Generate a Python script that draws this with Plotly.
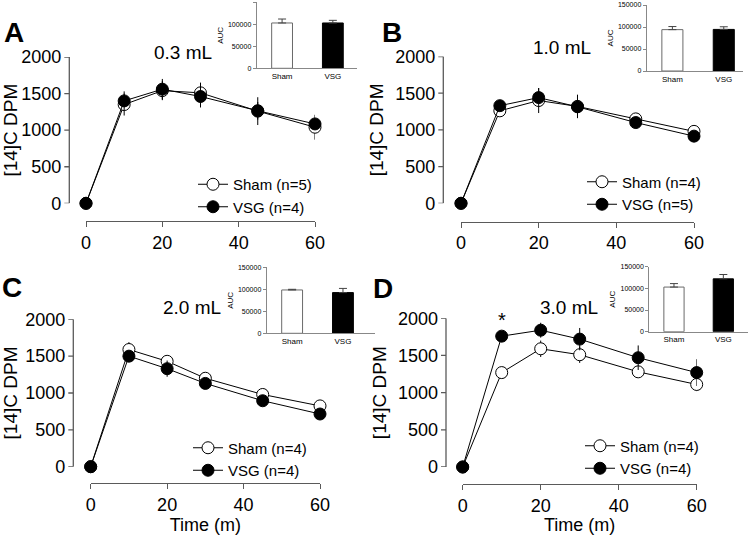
import plotly.graph_objects as go

# ---------------- data ----------------
time_min = [0, 10, 20, 30, 45, 60]

sham_A = [0, 1350, 1540, 1510, 1260, 1040]
sham_A_err = [0, 150, 130, 140, 190, 170]
vsg_A = [0, 1400, 1560, 1460, 1265, 1085]
vsg_A_err = [0, 130, 140, 150, 120, 60]

sham_B = [0, 1260, 1400, 1320, 1150, 980]
sham_B_err = [0, 60, 170, 160, 60, 40]
vsg_B = [0, 1330, 1440, 1315, 1100, 915]
vsg_B_err = [0, 50, 130, 90, 80, 40]

sham_C = [0, 1590, 1430, 1200, 980, 825]
sham_C_err = [0, 100, 70, 40, 40, 30]
vsg_C = [0, 1500, 1330, 1130, 895, 715]
vsg_C_err = [0, 80, 110, 40, 40, 40]

sham_D = [0, 1270, 1590, 1510, 1280, 1110]
sham_D_err = [0, 40, 110, 110, 60, 90]
vsg_D = [0, 1760, 1840, 1720, 1470, 1270]
vsg_D_err = [0, 40, 100, 150, 165, 180]

auc_groups = ["Sham", "VSG"]
auc_A = [103000, 103000]
auc_A_err = [9000, 6000]
auc_B = [94000, 94500]
auc_B_err = [7000, 6000]
auc_C = [98500, 92500]
auc_C_err = [1500, 9500]
auc_D = [103000, 122000]
auc_D_err = [8000, 10000]

panel_letters = ["A", "B", "C", "D"]
volumes = ["0.3 mL", "1.0 mL", "2.0 mL", "3.0 mL"]
sham_names = ["Sham (n=5)", "Sham (n=4)", "Sham (n=4)", "Sham (n=4)"]
vsg_names = ["VSG (n=4)", "VSG (n=5)", "VSG (n=4)", "VSG (n=4)"]
y_ticks = [0, 500, 1000, 1500, 2000]
x_ticks = [0, 20, 40, 60]
auc_ticks = [0, 50000, 100000, 150000]

# ---------------- layout helpers ----------------
W, H = 750, 535
FONT = "Liberation Sans, Arial, sans-serif"
AXC = "#5a5a5a"
T_MAX = 60
Y_MAX = 2000


def px_x(v):
    return v / W


def px_y(v):
    return 1 - v / H


main_geo = [
    dict(x0=86, x1=315, yt=57, yb=203.3, yline=69.3, xline=221),
    dict(x0=461, x1=694, yt=56.5, yb=203.3, yline=443.3, xline=221.7),
    dict(x0=90.7, x1=320, yt=319.3, yb=466.7, yline=73.3, xline=483.3),
    dict(x0=462.7, x1=696.7, yt=318.3, yb=467, yline=446, xline=484.3),
]
inset_geo = [
    dict(x0=256.7, x1=356.7, yt=2.3, yb=68.3, xr=1.47),
    dict(x0=646.7, x1=743.3, yt=5, yb=71, xr=1.38),
    dict(x0=266.7, x1=375, yt=267.3, yb=333.3, xr=1.63),
    dict(x0=649.3, x1=748, yt=266.7, yb=331.7, xr=1.5),
]
title_pos = [(183, 52), (562, 48), (192, 307), (569, 307)]
letter_pos = [(14, 32), (392, 32), (12, 287), (383, 288)]
legend_pos = [(193, 195.5), (582, 193), (188, 459), (580, 457)]

shams = [sham_A, sham_B, sham_C, sham_D]
sham_errs = [sham_A_err, sham_B_err, sham_C_err, sham_D_err]
vsgs = [vsg_A, vsg_B, vsg_C, vsg_D]
vsg_errs = [vsg_A_err, vsg_B_err, vsg_C_err, vsg_D_err]
aucs = [auc_A, auc_B, auc_C, auc_D]
auc_errs = [auc_A_err, auc_B_err, auc_C_err, auc_D_err]

fig = go.Figure()
layout = dict(
    width=W, height=H, margin=dict(l=0, r=0, t=0, b=0, autoexpand=False),
    paper_bgcolor="white", plot_bgcolor="rgba(0,0,0,0)",
    font=dict(family=FONT, color="black"),
    annotations=[], shapes=[],
)

HIDDEN = dict(showticklabels=False, ticks="", showgrid=False,
              zeroline=False, title=dict(text=""))

for i in range(4):
    n = i + 1
    xa = "x" if n == 1 else f"x{n}"       # data x axis (extends left to the y-axis line)
    ya = "y" if n == 1 else f"y{n}"       # data y axis
    tx_ax = f"x{8 + n}"                    # visible time axis, offset below the data
    hy = f"y{8 + n}"                       # helper whose bottom edge carries the time axis
    lg = "legend" if n == 1 else f"legend{n}"
    g = main_geo[i]

    x_min = -T_MAX * (g["x0"] - g["yline"]) / (g["x1"] - g["x0"])

    fig.add_trace(go.Scatter(x=[], y=[], xaxis=tx_ax, yaxis=hy, showlegend=False, hoverinfo="skip"))

    fig.add_trace(go.Scatter(
        x=time_min, y=shams[i], name=sham_names[i], xaxis=xa, yaxis=ya, legend=lg,
        mode="lines+markers", cliponaxis=False,
        line=dict(color="black", width=1),
        marker=dict(symbol="circle", size=12, color="white", line=dict(color="black", width=1)),
        error_y=dict(type="data", array=sham_errs[i], color="black", thickness=1, width=0),
    ))
    fig.add_trace(go.Scatter(
        x=time_min, y=vsgs[i], name=vsg_names[i], xaxis=xa, yaxis=ya, legend=lg,
        mode="lines+markers", cliponaxis=False,
        line=dict(color="black", width=1),
        marker=dict(symbol="circle", size=12, color="black", line=dict(color="black", width=1)),
        error_y=dict(type="data", array=vsg_errs[i], color="black", thickness=1, width=0),
    ))

    xkey = "xaxis" if n == 1 else f"xaxis{n}"
    ykey = "yaxis" if n == 1 else f"yaxis{n}"
    layout[xkey] = dict(
        domain=[px_x(g["yline"]), px_x(g["x1"])], range=[x_min, T_MAX], anchor=ya,
        showline=False, **HIDDEN)
    layout[ykey] = dict(
        domain=[px_y(g["yb"]), px_y(g["yt"])], range=[0, Y_MAX],
        anchor=xa, showline=False, ticks="", ticklabelstandoff=7,
        tickvals=y_ticks, tickfont=dict(size=18, family=FONT, color="black"),
        showgrid=False, zeroline=False,
        title=dict(text="[14]C DPM", font=dict(size=19, family=FONT), standoff=6),
    )
    # y-axis line and tick marks, placed on the data y scale at the left edge of the data x domain
    layout["shapes"].append(dict(
        type="line", xref=f"{xa} domain", yref=ya, x0=0, x1=0, y0=0, y1=Y_MAX,
        line=dict(color=AXC, width=1.3), layer="above"))
    for v in y_ticks:
        layout["shapes"].append(dict(
            type="line", xref=f"{xa} domain", yref=ya, xsizemode="pixel", xanchor=0,
            x0=-5, x1=0, y0=v, y1=v, line=dict(color=AXC, width=1.3), layer="above"))

    layout[f"xaxis{8 + n}"] = dict(
        domain=[px_x(g["x0"]), px_x(g["x1"])], range=[0, T_MAX],
        anchor=hy,
        showline=True, linecolor=AXC, linewidth=1.3,
        ticks="outside", ticklen=5, tickcolor=AXC, tickwidth=1.3,
        tickvals=x_ticks, tickfont=dict(size=18, family=FONT, color="black"),
        showgrid=False, zeroline=False,
        title=dict(text="Time (m)" if i >= 2 else "", font=dict(size=18, family=FONT), standoff=0),
    )
    layout[f"yaxis{8 + n}"] = dict(
        domain=[px_y(g["xline"]), px_y(g["yt"])], range=[0, 1], anchor=tx_ax,
        showline=False, **HIDDEN)

    lx, ly = legend_pos[i]
    layout[lg] = dict(
        x=px_x(lx), y=px_y(ly), xanchor="left", yanchor="middle",
        bgcolor="rgba(0,0,0,0)", font=dict(size=15, family=FONT, color="black"),
        itemwidth=30, tracegroupgap=0,
    )

    tpx, tpy = title_pos[i]
    layout["annotations"].append(dict(
        text=volumes[i], x=px_x(tpx), y=px_y(tpy), xref="paper", yref="paper",
        showarrow=False, font=dict(size=19, family=FONT), xanchor="center", yanchor="middle"))
    lx2, ly2 = letter_pos[i]
    layout["annotations"].append(dict(
        text=f"<b>{panel_letters[i]}</b>", x=px_x(lx2), y=px_y(ly2), xref="paper", yref="paper",
        showarrow=False, font=dict(size=28, family=FONT), xanchor="center", yanchor="middle"))

    m = n + 4
    ixa = f"x{m}"
    iya = f"y{m}"
    ig = inset_geo[i]
    fig.add_trace(go.Bar(
        x=auc_groups, y=aucs[i], xaxis=ixa, yaxis=iya, showlegend=False, width=0.41,
        marker=dict(color=["white", "black"], line=dict(color=["#6a6a6a", "black"], width=1)),
        error_y=dict(type="data", symmetric=False, array=auc_errs[i], arrayminus=[0, 0],
                     color="#444", thickness=1, width=4),
    ))
    layout[f"xaxis{m}"] = dict(
        domain=[px_x(ig["x0"]), px_x(ig["x1"])], range=[-0.5, ig["xr"]],
        anchor=iya, showline=True, linecolor="#888", linewidth=1,
        ticks="", tickfont=dict(size=8, family=FONT, color="black"),
        showgrid=False, zeroline=False,
    )
    layout[f"yaxis{m}"] = dict(
        domain=[px_y(ig["yb"]), px_y(ig["yt"])], range=[0, 150000],
        anchor=ixa, showline=True, linecolor="#888", linewidth=1,
        ticks="outside", ticklen=3, tickcolor="#888", tickformat="d",
        tickvals=auc_ticks, tickfont=dict(size=7, family=FONT, color="black"),
        showgrid=False, zeroline=False,
        title=dict(text="AUC", font=dict(size=8, family=FONT), standoff=3),
    )

layout["annotations"].append(dict(
    text="*", x=time_min[1], y=vsg_D[1], xref="x4", yref="y4", showarrow=False,
    yshift=16, font=dict(size=20, family=FONT)))

fig.update_layout(**layout)
fig.write_html("out.html", config={"displayModeBar": False},
               post_script="document.body.style.margin='0px';")
